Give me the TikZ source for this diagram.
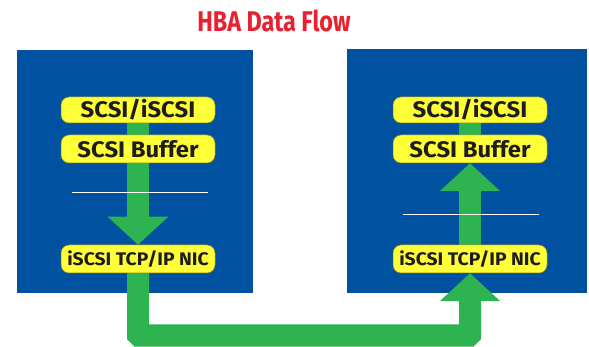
\documentclass[tikz,border=0pt]{standalone}
\usepackage{fontspec}
\newfontfamily\titlefont[FakeStretch=0.82]{Fira Sans}
\newfontfamily\pillfont[FakeStretch=1.06]{Fira Sans}
\usetikzlibrary{positioning, arrows.meta}
\definecolor{hbablue}{RGB}{0,81,160}
\definecolor{hbagreen}{RGB}{45,179,80}
\definecolor{hbayellow}{RGB}{255,255,55}
\definecolor{hbared}{RGB}{232,32,48}
\definecolor{hbatext}{RGB}{30,28,30}
\pgfdeclarelayer{back}
\pgfdeclarelayer{mid}
\pgfsetlayers{back,mid,main}

\begin{document}
\begin{tikzpicture}[
          x=1pt, y=-1pt,
          hostbox/.style={fill=hbablue, inner sep=0pt},
          pill/.style={fill=hbayellow, draw=hbayellow!55!black, line width=0.5pt,
            rounded corners=8pt, minimum width=154pt, inner sep=0pt,
            text=hbatext, font=\pillfont\bfseries\fontsize{22.5}{22.5}\selectfont},
          niclabel/.style={pill, font=\pillfont\bfseries\fontsize{18.2}{18.2}\selectfont},
          flow/.style={draw=hbagreen, line width=22pt},
          head/.style={-{Triangle[width=59pt, length=28pt]}},
          divider/.style={draw=white, line width=1pt}
        ]
          \useasboundingbox (0,0) rectangle (589,347);
          \node[text=hbared, font=\titlefont\bfseries\fontsize{28.5}{28.5}\selectfont] (title) at (274,21) {HBA Data Flow};
          \begin{pgfonlayer}{back}
            \node[hostbox, minimum width=236pt, minimum height=243pt] (lefthost) at (135,171.5) {};
            \node[hostbox, minimum width=240pt, minimum height=244pt] (righthost) at (467,171) {};
          \end{pgfonlayer}
          \node[pill, minimum height=26pt] (lscsi) at (138,110) {SCSI/iSCSI};
          \node[pill, minimum height=28pt] (lbuf) at (138,149) {SCSI Buffer};
          \node[niclabel, minimum height=28pt] (lnic) at (138,259) {iSCSI TCP/IP NIC};
          \node[pill, minimum height=26pt] (rscsi) at (470,110) {SCSI/iSCSI};
          \node[pill, minimum height=28pt] (rbuf) at (470,149) {SCSI Buffer};
          \node[niclabel, minimum height=28pt] (rnic) at (470,259) {iSCSI TCP/IP NIC};
          \coordinate (wire) at (0,335.5);
          \begin{pgfonlayer}{mid}
            \draw[flow, head] (lscsi.center) -- (lnic.north);
            \draw[flow, head, rounded corners=1pt] (lnic.center) -- (lnic |- wire) -- (rnic |- wire) -- (rnic.south);
            \draw[flow, head] (rnic.north) -- (rbuf.south);
            \draw[flow] (rbuf.center) -- (rscsi.center);
            \draw[divider] (72,193) -- (208,193);
            \draw[divider] (403,215) -- (539,215);
          \end{pgfonlayer}
        \end{tikzpicture}
\end{document}
